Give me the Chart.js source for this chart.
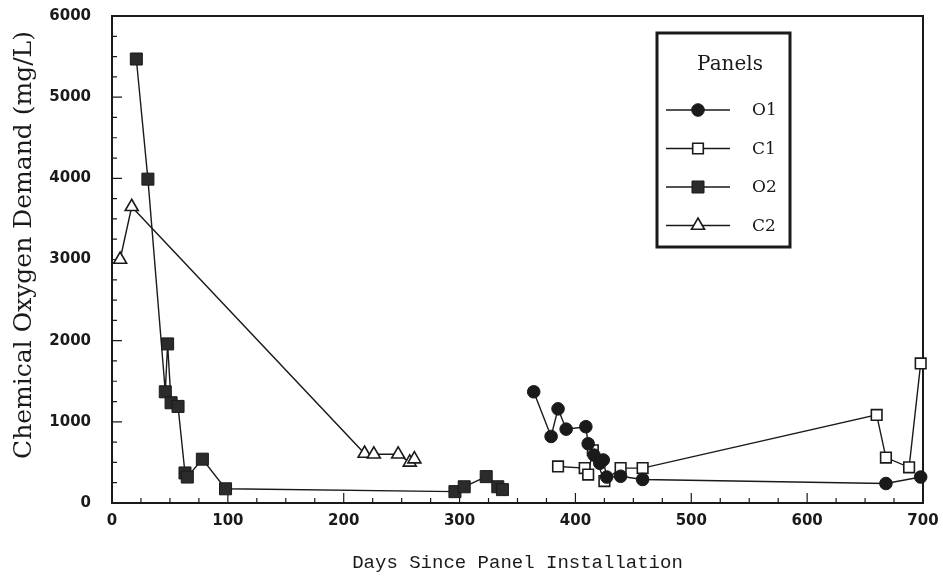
<!DOCTYPE html>
<html>
<head>
<meta charset="utf-8">
<title>Chemical Oxygen Demand by Panel</title>
<script src="https://cdn.jsdelivr.net/npm/chart.js@4.4.1/dist/chart.umd.min.js"></script>
<style>
  html, body { margin: 0; padding: 0; background: #fff; }
</style>
</head>
<body>
<canvas id="codChart" width="943" height="580"></canvas>
<script>
// sampling days and COD readings (mg/L) for each panel
const o1Days = [364, 379, 385, 392, 409, 411, 416, 421, 424, 427, 439, 458, 668, 698];
const o1Cod  = [1370, 820, 1160, 910, 940, 730, 590, 490, 530, 320, 330, 290, 240, 320];

const c1Days = [385, 408, 411, 415, 425, 439, 458, 660, 668, 688, 698];
const c1Cod  = [450, 430, 350, 650, 270, 430, 430, 1085, 560, 440, 1720];

const o2Days = [21, 31, 46, 48, 51, 57, 63, 65, 78, 98, 296, 304, 323, 333, 337];
const o2Cod  = [5470, 3990, 1370, 1960, 1235, 1190, 370, 320, 540, 175, 140, 200, 325, 200, 165];

const c2Days = [7, 17, 218, 226, 247, 257, 261];
const c2Cod  = [3000, 3650, 610, 600, 600, 500, 540];

const panelNames = ['O1', 'C1', 'O2', 'C2'];
const xTickValues = [0, 100, 200, 300, 400, 500, 600, 700];
const yTickValues = [0, 1000, 2000, 3000, 4000, 5000, 6000];
const yTitle = 'Chemical Oxygen Demand (mg/L)';

const ink = '#1a1a1a';

const toPoints = (days, cod) => days.map((d, i) => ({ x: d, y: cod[i] }));

const markerStyles = [
    { pointStyle: 'circle', pointRadius: 6.3, pointBackgroundColor: ink, pointBorderWidth: 1 },
    { pointStyle: 'rect', pointRadius: 7.5, pointBackgroundColor: '#fff', pointBorderWidth: 1.6 },
    { pointStyle: 'rect', pointRadius: 8.5, pointBackgroundColor: '#2b2b2b', pointBorderWidth: 1 },
    { pointStyle: 'triangle', pointRadius: 7.5, pointBackgroundColor: '#fff', pointBorderWidth: 1.6 }
];

const seriesData = [
    toPoints(o1Days, o1Cod),
    toPoints(c1Days, c1Cod),
    toPoints(o2Days, o2Cod),
    toPoints(c2Days, c2Cod)
];

const datasets = panelNames.map((name, i) => Object.assign({
    label: name,
    data: seriesData[i],
    borderColor: ink,
    borderWidth: 1.4,
    pointBorderColor: ink,
    pointHoverRadius: markerStyles[i].pointRadius,
    tension: 0,
    clip: false
}, markerStyles[i]));

// draws one marker the same way the point elements do
function drawMarker(ctx, ds, x, y) {
    const r = ds.pointRadius;
    ctx.beginPath();
    if (ds.pointStyle === 'circle') {
        ctx.arc(x, y, r, 0, Math.PI * 2);
    } else if (ds.pointStyle === 'rect') {
        const s = r * Math.SQRT1_2;
        ctx.rect(x - s, y - s, 2 * s, 2 * s);
    } else {
        ctx.moveTo(x, y - r);
        ctx.lineTo(x + r * 0.866, y + r * 0.5);
        ctx.lineTo(x - r * 0.866, y + r * 0.5);
        ctx.closePath();
    }
    ctx.fillStyle = ds.pointBackgroundColor;
    ctx.fill();
    ctx.lineWidth = ds.pointBorderWidth;
    ctx.strokeStyle = ds.pointBorderColor;
    ctx.stroke();
}

// box around the plot, inward tick marks (majors every 100 / 1000) and the y title
const frameTicks = {
    id: 'frameTicks',
    beforeDatasetsDraw(chart) {
        const { ctx, chartArea: a, scales: { x, y } } = chart;
        ctx.save();
        ctx.strokeStyle = ink;
        ctx.lineWidth = 1.2;
        ctx.beginPath();
        for (let d = 0; d <= 700; d += 25) {
            const px = x.getPixelForValue(d);
            const len = d % 100 === 0 ? 10 : 5;
            ctx.moveTo(px, a.bottom);
            ctx.lineTo(px, a.bottom - len);
        }
        for (let v = 0; v <= 6000; v += 250) {
            const py = y.getPixelForValue(v);
            const len = v % 1000 === 0 ? 10 : 5;
            ctx.moveTo(a.left, py);
            ctx.lineTo(a.left + len, py);
        }
        ctx.stroke();
        ctx.lineWidth = 2;
        ctx.strokeRect(a.left, a.top, a.right - a.left, a.bottom - a.top);

        ctx.translate(24, 245);
        ctx.rotate(-Math.PI / 2);
        ctx.fillStyle = ink;
        ctx.font = '25px "DejaVu Serif"';
        ctx.textAlign = 'center';
        ctx.textBaseline = 'middle';
        ctx.fillText(yTitle, 0, 0);
        ctx.restore();
    }
};

// boxed key in the upper right of the plot
const panelKey = {
    id: 'panelKey',
    afterDraw(chart) {
        const ctx = chart.ctx;
        const left = 657, top = 33, w = 133, h = 214;
        ctx.save();
        ctx.fillStyle = '#fff';
        ctx.fillRect(left, top, w, h);
        ctx.strokeStyle = ink;
        ctx.lineWidth = 3;
        ctx.strokeRect(left, top, w, h);

        ctx.fillStyle = ink;
        ctx.font = '20px "DejaVu Serif"';
        ctx.textAlign = 'center';
        ctx.textBaseline = 'middle';
        ctx.fillText('Panels', 730, 65);

        ctx.textAlign = 'left';
        ctx.font = '17px "DejaVu Serif"';
        chart.data.datasets.forEach((ds, i) => {
            const rowY = 110 + i * 38.5;
            ctx.strokeStyle = ink;
            ctx.lineWidth = 1.4;
            ctx.beginPath();
            ctx.moveTo(666, rowY);
            ctx.lineTo(730, rowY);
            ctx.stroke();
            drawMarker(ctx, ds, 698, rowY);
            ctx.fillStyle = ink;
            ctx.fillText(ds.label, 752, rowY + 1);
        });
        ctx.restore();
    }
};

const tickFont = { family: 'DejaVu Sans', size: 15, weight: 'bold' };

new Chart(document.getElementById('codChart'), {
    type: 'line',
    data: { datasets },
    plugins: [frameTicks, panelKey],
    options: {
        responsive: false,
        animation: false,
        layout: { padding: { left: 0, right: 20, top: 16, bottom: 0 } },
        plugins: {
            legend: { display: false },
            tooltip: { enabled: false }
        },
        scales: {
            x: {
                type: 'linear',
                min: 0,
                max: 700,
                afterFit: (scale) => {
                    scale.height = 77;
                    scale.paddingLeft = 0;
                    scale.paddingRight = 0;
                },
                afterBuildTicks: (scale) => { scale.ticks = xTickValues.map(v => ({ value: v })); },
                grid: { display: false, drawTicks: false },
                border: { display: false },
                ticks: {
                    padding: 9,
                    color: ink,
                    autoSkip: false,
                    maxRotation: 0,
                    callback: (v) => String(v),
                    font: tickFont
                },
                title: {
                    display: true,
                    text: 'Days Since Panel Installation',
                    color: ink,
                    padding: { top: 0, bottom: 6 },
                    font: { family: 'Liberation Mono', size: 19 }
                }
            },
            y: {
                type: 'linear',
                min: 0,
                max: 6000,
                afterFit: (scale) => {
                    scale.width = 112;
                    scale.paddingTop = 0;
                    scale.paddingBottom = 0;
                },
                afterBuildTicks: (scale) => { scale.ticks = yTickValues.map(v => ({ value: v })); },
                grid: { display: false, drawTicks: false },
                border: { display: false },
                ticks: {
                    padding: 21,
                    color: ink,
                    autoSkip: false,
                    callback: (v) => String(v),
                    font: tickFont
                }
            }
        }
    }
});
</script>
</body>
</html>
